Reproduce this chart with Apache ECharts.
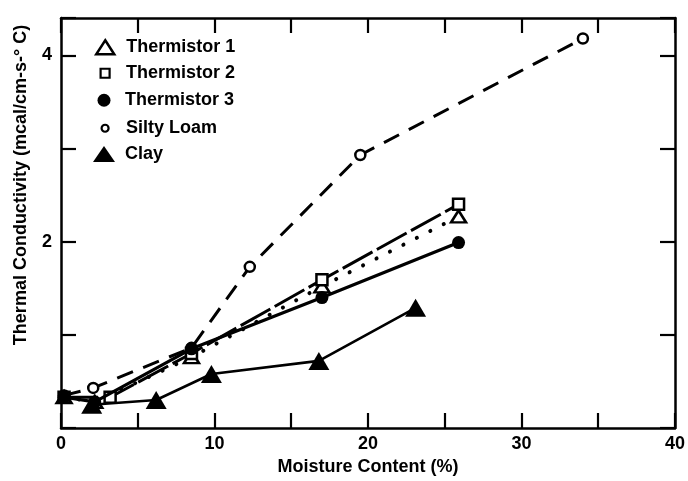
<!DOCTYPE html>
<html>
<head>
<meta charset="utf-8">
<script src="https://cdn.jsdelivr.net/npm/echarts@6/dist/echarts.min.js"></script>
<style>
html,body{margin:0;padding:0;background:#fff;}
#c{width:688px;height:481px;}
</style>
</head>
<body>
<div id="c"></div>
<script>
// ---- data (moisture %, conductivity) ----
const seriesNames = ['Thermistor 1', 'Thermistor 2', 'Thermistor 3', 'Silty Loam', 'Clay'];
const thermistor1 = [[0.2, 0.33], [2.2, 0.28], [8.5, 0.76], [17, 1.52], [25.9, 2.27]];
const thermistor2 = [[0.2, 0.33], [3.2, 0.33], [8.5, 0.80], [17, 1.59], [25.9, 2.40]];
const thermistor3 = [[0.2, 0.33], [2.2, 0.28], [8.5, 0.85], [17, 1.40], [25.9, 1.99]];
const siltyLoam = [[0.2, 0.35], [2.1, 0.43], [8.5, 0.86], [12.3, 1.73], [19.5, 2.93], [34, 4.18]];
const clay = [[2.0, 0.25], [6.2, 0.30], [9.8, 0.58], [16.8, 0.72], [23.1, 1.29]];
const xTickLabels = [0, 10, 20, 30, 40];
const yTickLabels = [2, 4];

const FONT = 'Liberation Sans, Arial, sans-serif';
const txt = { fontFamily: FONT, fontWeight: 'bold', fontSize: 18, color: '#000' };
const BLK = '#000';

const chart = echarts.init(document.getElementById('c'), null, { renderer: 'canvas' });

function axisCommon(showLabels, isX) {
  return {
    axisLine: { show: true, onZero: false, lineStyle: { color: BLK, width: 2.5 } },
    axisTick: { show: true, inside: true, length: 15, lineStyle: { color: BLK, width: 2.2 } },
    splitLine: { show: false },
    axisLabel: {
      show: showLabels,
      margin: isX ? 7 : 9,
      ...txt,
      formatter: function (v) {
        const list = isX ? xTickLabels : yTickLabels;
        return list.indexOf(Math.round(v * 100) / 100) >= 0 ? String(v) : '';
      }
    }
  };
}

const legendSpec = [
  { name: seriesNames[0], icon: 'triangle', w: 18, h: 14, yc: 46, fill: '#fff', bw: 2.5 },
  { name: seriesNames[1], icon: 'rect', w: 9, h: 9, yc: 72, fill: '#fff', bw: 2.2 },
  { name: seriesNames[2], icon: 'circle', w: 13, h: 13, yc: 99, fill: BLK, bw: 0 },
  { name: seriesNames[3], icon: 'circle', w: 7, h: 7, yc: 127, fill: '#fff', bw: 2.2 },
  { name: seriesNames[4], icon: 'triangle', w: 22, h: 16, yc: 153, fill: BLK, bw: 0 }
];

const legends = legendSpec.map(function (s) {
  const left = 104 - s.w / 2;
  const padLeft = 125 - (left + s.w) - 5;
  return {
    orient: 'vertical',
    left: left,
    top: s.yc - Math.max(s.h, 15.5) / 2,
    padding: 0,
    itemWidth: s.w,
    itemHeight: s.h,
    symbolKeepAspect: false,
    selectedMode: false,
    itemStyle: { color: s.fill, borderColor: BLK, borderWidth: s.bw },
    textStyle: { ...txt, fontSize: 18, padding: [0, 0, 0, padLeft] },
    data: [{ name: s.name, icon: s.icon }]
  };
});

const option = {
  backgroundColor: '#fff',
  animation: false,
  grid: { left: 61, right: 11, top: 18, bottom: 52, containLabel: false },
  legend: legends,
  xAxis: [
    Object.assign({
      type: 'value', position: 'bottom', min: 0, max: 40, interval: 5,
      name: 'Moisture Content (%)', nameLocation: 'middle', nameGap: 30,
      nameTextStyle: { ...txt, fontSize: 18 }
    }, axisCommon(true, true)),
    Object.assign({
      type: 'value', position: 'top', min: 0, max: 40, interval: 5
    }, axisCommon(false, true))
  ],
  yAxis: [
    Object.assign({
      type: 'value', position: 'left', min: 0, max: 4.4, interval: 1,
      name: 'Thermal Conductivity (mcal/cm-s-° C)', nameLocation: 'middle', nameGap: 31,
      nameTextStyle: { ...txt, fontSize: 18, padding: [0, 0, 0, 76] }
    }, axisCommon(true, false)),
    Object.assign({
      type: 'value', position: 'right', min: 0, max: 4.4, interval: 1
    }, axisCommon(false, false))
  ],
  series: [
    {
      name: seriesNames[3], type: 'line', data: siltyLoam, z: 2,
      symbol: 'circle', symbolSize: 10,
      lineStyle: { color: BLK, width: 3, type: [17, 11] },
      itemStyle: { color: '#fff', borderColor: BLK, borderWidth: 2.5 }
    },
    {
      name: seriesNames[0], type: 'line', data: thermistor1, z: 3,
      symbol: 'triangle', symbolSize: [15, 12],
      lineStyle: { color: BLK, width: 4, type: [0.1, 15], cap: 'round' },
      itemStyle: { color: '#fff', borderColor: BLK, borderWidth: 2.5 }
    },
    {
      name: seriesNames[1], type: 'line', data: thermistor2, z: 3,
      symbol: 'rect', symbolSize: 11,
      lineStyle: { color: BLK, width: 3, type: [34, 5] },
      itemStyle: { color: '#fff', borderColor: BLK, borderWidth: 2.5 }
    },
    {
      name: seriesNames[2], type: 'line', data: thermistor3, z: 4,
      symbol: 'circle', symbolSize: 13,
      lineStyle: { color: BLK, width: 3.2 },
      itemStyle: { color: BLK, borderWidth: 0 }
    },
    {
      name: seriesNames[4], type: 'line', data: clay, z: 4,
      symbol: 'triangle', symbolSize: [21, 18],
      lineStyle: { color: BLK, width: 2.6 },
      itemStyle: { color: BLK, borderWidth: 0 }
    }
  ]
};
chart.setOption(option);
</script>
</body>
</html>
